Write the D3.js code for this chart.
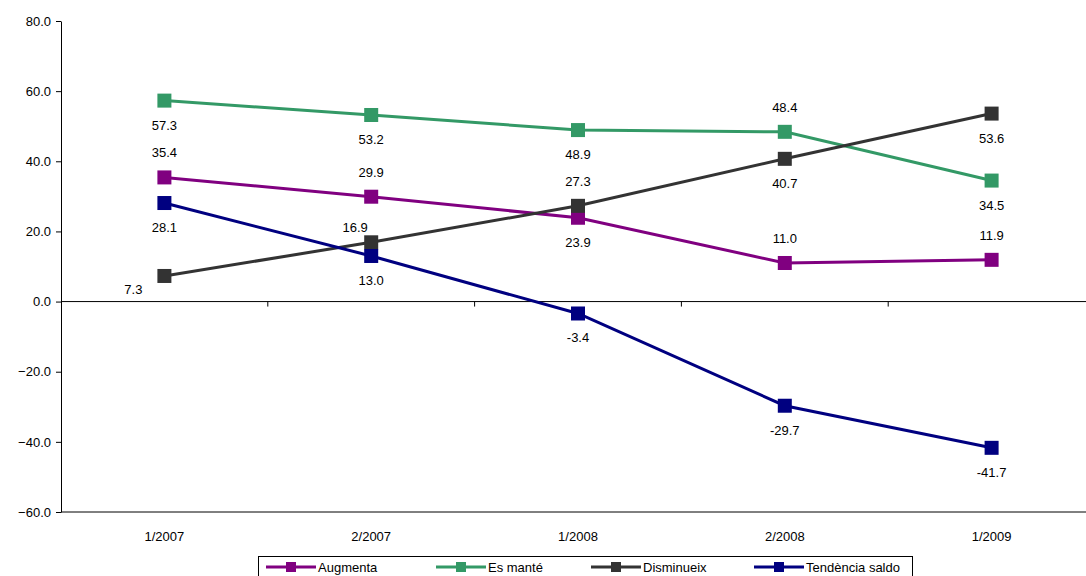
<!DOCTYPE html>
<html><head><meta charset="utf-8">
<script src="https://cdn.jsdelivr.net/npm/d3@7"></script>
<style>body{margin:0;background:#fff}svg{font-family:Arial,"Liberation Sans",sans-serif}</style>
</head><body><svg id="c" width="1086" height="576"></svg>
<script>
const categories = ["1/2007", "2/2007", "1/2008", "2/2008", "1/2009"];
const augmenta = [35.4, 29.9, 23.9, 11.0, 11.9];
const esMante = [57.3, 53.2, 48.9, 48.4, 34.5];
const disminueix = [7.3, 16.9, 27.3, 40.7, 53.6];
const saldo = [28.1, 13.0, -3.4, -29.7, -41.7];
const yTicks = [-60, -40, -20, 0, 20, 40, 60, 80];

// posició de l'etiqueta: "a" damunt, "b" sota, "l" esquerra, "al" damunt-esquerra
const series = [
  {name: "Augmenta", values: augmenta, color: "#800080", pos: ["a","a","b","a","a"]},
  {name: "Es manté", values: esMante, color: "#339966", pos: ["b","b","b","a","b"]},
  {name: "Disminueix", values: disminueix, color: "#333333", pos: ["l","al","a","b","b"]},
  {name: "Tendència saldo", values: saldo, color: "#000080", pos: ["b","b","b","b","b"]}
];

const svg = d3.select("#c");
const x = d3.scaleBand().domain(categories).range([61, 1095]);
const y = d3.scaleLinear().domain([-60, 80]).range([512, 21]);

svg.append("g").attr("transform", "translate(61,0)")
  .call(d3.axisLeft(y).tickValues(yTicks).tickFormat(d3.format(".1f")).tickSize(5).tickSizeOuter(0))
  .call(g => g.selectAll("text").attr("font-size", 13).attr("fill", "#000").attr("dx", -2))
  .call(g => g.selectAll("line,path").attr("stroke", "#000"));

const xa = svg.append("g").attr("transform", `translate(0,${y(0)})`);
xa.append("line").attr("x1", 61).attr("x2", 1086).attr("stroke", "#000");
xa.selectAll("line.t").data(categories.slice(1)).join("line").attr("class","t")
  .attr("x1", d => x(d)).attr("x2", d => x(d)).attr("y1", 0).attr("y2", 5).attr("stroke", "#000");
svg.append("line").attr("x1",61).attr("x2",1086).attr("y1",512).attr("y2",512).attr("stroke","#000");
svg.selectAll("text.cat").data(categories).join("text").attr("class","cat")
  .attr("x", d => x(d) + x.bandwidth()/2).attr("y", 541).attr("text-anchor","middle")
  .attr("font-size", 13).text(d => d);

const cx = c => x(c) + x.bandwidth()/2;
const line = d3.line().x((d,i) => cx(categories[i])).y(d => y(d));

series.forEach(s => {
  const g = svg.append("g");
  g.append("path").datum(s.values).attr("d", line).attr("fill","none")
    .attr("stroke", s.color).attr("stroke-width", 3);
  g.selectAll("rect").data(s.values).join("rect")
    .attr("x", (d,i) => cx(categories[i]) - 7).attr("y", d => y(d) - 7)
    .attr("width", 14).attr("height", 14).attr("fill", s.color);
  g.selectAll("text").data(s.values).join("text")
    .attr("x", (d,i) => cx(categories[i]) + ({l:-31, al:-16}[s.pos[i]] || 0))
    .attr("y", (d,i) => y(d) + ({a:-20, b:29, l:18, al:-10}[s.pos[i]]))
    .attr("text-anchor","middle").attr("font-size", 13).text(d => d.toFixed(1));
});

// llegenda
const lg = svg.append("g");
lg.append("rect").attr("x", 258.5).attr("y", 556.5).attr("width", 654).attr("height", 22)
  .attr("fill","#fff").attr("stroke","#000");
const lx = [266, 436, 591, 754];
series.forEach((s,i) => {
  const g = lg.append("g").attr("transform", `translate(${lx[i]},567)`);
  g.append("line").attr("x1",0).attr("x2",50).attr("stroke",s.color).attr("stroke-width",3);
  g.append("rect").attr("x",20).attr("y",-5).attr("width",10).attr("height",10).attr("fill",s.color);
  g.append("text").attr("x",52).attr("y",5).attr("font-size",13).text(s.name);
});
</script></body></html>
